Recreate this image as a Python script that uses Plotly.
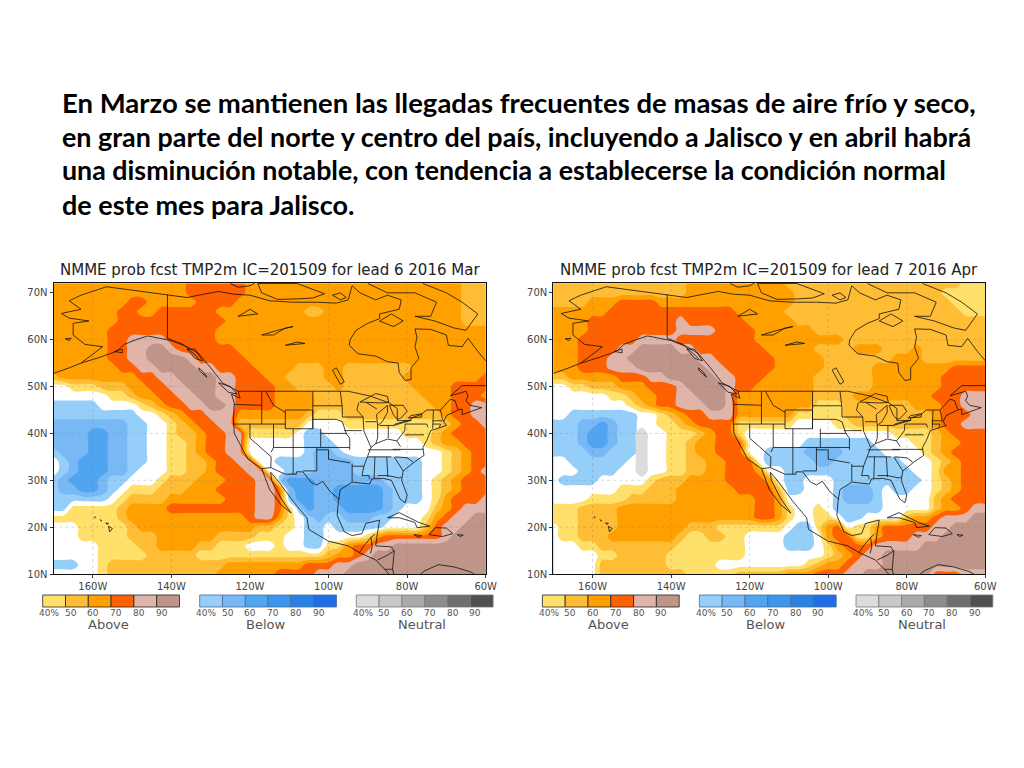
import plotly.graph_objects as go

WIDTH = 1024
HEIGHT = 768

HEADING = [
    "En Marzo se mantienen las llegadas frecuentes de masas de aire frío y seco,",
    "en gran parte del norte y centro del país, incluyendo a Jalisco y en abril habrá",
    "una disminución notable, con tendencia a establecerse la condición normal",
    "de este mes para Jalisco.",
]
HEADING_SIZES = [27.5, 26.9, 26.8, 27]
TITLES = [
    "NMME prob fcst TMP2m IC=201509 for lead 6 2016 Mar",
    "NMME prob fcst TMP2m IC=201509 for lead 7 2016 Apr",
]

LON_TICKS = [-160, -140, -120, -100, -80, -60]
LON_LABELS = ["160W", "140W", "120W", "100W", "80W", "60W"]
LAT_TICKS = [10, 20, 30, 40, 50, 60, 70]
LAT_LABELS = ["10N", "20N", "30N", "40N", "50N", "60N", "70N"]

ABOVE_COLORS = ["#FFE06A", "#FFBC35", "#FFA000", "#FF6000", "#E0B4A8", "#BF958A"]
BELOW_COLORS = ["#96CEFA", "#78B8F5", "#50A5F0", "#3C96F0", "#2882E6", "#1E6EE6"]
NEUTRAL_COLORS = ["#DCDCDC", "#C8C8C8", "#AAAAAA", "#8C8C8C", "#6E6E6E", "#505050"]
LEGEND_LABELS = ["40%", "50", "60", "70", "80", "90"]
LEGEND_NAMES = ["Above", "Below", "Neutral"]

# forecast category per grid cell, north to south (72N..10N every 2 deg),
# west to east (170W..60W every 2.5 deg). 1-6 above, A-C below, n neutral, 0 none
MAR_ROWS = [
    "33333333333333 444444 3333333333333333333333 222",
    "33333333333333 444444 3333333333333333333333 222",
    "33333333 44 33333 4444 33333333333333333333333 222",
    "3333333 44 33 444444 333333333 22 33333333333333 222",
    "3333333 44444444444 333333333333333333333333 222",
    "333333 44444444444 3333333333333333333333333333",
    "333333 44 5555 44444 3333333333333333333333333333",
    "333333 44 55 66 5 444444 33333333333333333333333333",
    "333333 44 55 6666 5 44444 3333333333333333333333333",
    "3333333 44 55 6666 55 4444 3333 222 33 2222222 33333333",
    "2 33333333 44 55 6666 55 444 33 2222 33 222222 33333333 4",
    "00 111 222 33 44 55 666 55 4444 33 2222 3 2222222 3333 4444",
    "000000 11 2 33 44 55 66 55 4444 3333 22222222222 333 444 3",
    "AAAAA 0000 1 2 3 44 55 66 5 4444 3333 222222222222 33 44 55",
    "AAAAAAAAA 00 1 2 3 44 555 3333333 2 111 2222222222 3 44 55",
    "BBBBBBBB AA 00 1 2 3 44 55 2222222 0000 1111111111 2 3 44 5",
    "BBBB CC BB AA 00 1 22 3 44 55 11111 0 AA 00000000 111 2 3 4444",
    "BBBB CC BB AA 00 11 2 3 44 55 000000 AAA 000000000 1 2 33 444",
    "A BBB CC BB AA 00 11 2 3 44 55 000000 A BB A 000000000 0 1 2 3 44",
    "0 A B CCC BB AA 00 11 22 3 44 55 00 AAAA BBBB AAAAAAA 00 1 2 3 44",
    "0 A B CCC BB A 000 11 22 3 444 55 00 AAA BBB B AAAAAAA 00 1 2 3 4 5",
    "A B CCC B AA 000 1 222 333 444 55 A CCC BBBBBBB AAAA 0 1 2 3 444",
    "A BB CC B A 0 111 222 333 4444 55 4 B CC BB CCCCC B AAA 0 1 2 3 444",
    "AAAAAA 0 1 2222 333333 444 55 4 A CC BB CCCCC B AAA 0 1 3 444 5",
    "AA 11111 2 3333 444444444 55 4 1 A C BB B CCCC B A 000 2 3 4 555",
    "1111111 2 333333333333 4 55 3 1 0 A B AA BBB AA 000 1 3 4 55 66",
    "000 11111 2 333333333333 22 11 0 AA 0 A AAAA 0000 2 4 55 666",
    "000 11111 222 333333 2222 111 00 AA 0000 1 3 4 444 4 4 5 6666",
    "00000 1111 22 3333 22 111 000 1 00 AA 11 3 44 55 6666666666",
    "00000 11111 22222 11111 11111111 2 33 4 5 666666666666",
    "AAA 00 1 222222222222 33333333 444 55 66666666666666",
    "00000 1 22222222222 333333 4444 555 666666666666666",
]
APR_ROWS = [
    "22222222222222 3333333333 222222222222222222 111",
    "22222222222222 33333333333 222222222222222 11111",
    "2222 333 4444 33333333333333 2222222222222222 1111",
    "333333 4444444444444 33333 222222222222222222 111",
    "3333 444444444 5 444444 33333 22222222222222222222",
    "3333 444444444 5555 4444 333333 222222222222222222",
    "333 444444 5555 44444444 33333 3333 222222222222222",
    "333 4444 55 6666 55 4444444 33333 2222 333 222 3 2222222",
    "333 444 55 6666666 55 444444 33333 2222222 333 2222222",
    "333 444 555 6666666 55 44444 33333 22222 33333 333 4444",
    "22 33333 444 55 66666 55 444 33333 222222 3333333 44444",
    "00 11 222 333 44 4 5 666 6 5 44 333333 222222 33333 33 44444",
    "000000 11 2 33 44 55 666 5 33333333 2222 3333333 3 444 555",
    "00000000 1 2 3 44 555 66 5 33333333 111 2222222 333 44 555",
    "00 AAAAAA A 00 1 2 3 44 555 33333 3 11111 222222222 3 444 55",
    "AAA BB C B AA 00 11 2 3 4444 111111 0000 11 22222222 3 44 555",
    "AAA B CC B AA n 00 111 2 3 44 1 000000000000000 111 1 2 3 4444",
    "AAA B CC B AA n 00 11 2 33 444 000000 AAAAAAA 0000 11 2 33 444",
    "AAAA BB AAA n 00 11 2 33 444 00 AAAA BBBB AAAA 0000 1 2 3 4444",
    "00 AAAAAA 0 n 00 11 22 3 3 44 4 0 AAAAA BB AAAAAAA 000 1 2 3 444",
    "000 AAAA 00 n 00 11 22 33 444 3 00 AAAAAAAAAAA AA 00 1 3 3 444",
    "0 AAAA 00000 1 222 3333 4444 3 0 AA 000 AAAAAAAAA 0 1 2 3 444",
    "0000000 111 222 333333 4444 2 AA 000 A BBB A 0 AA 00 1 2 3 444",
    "0000 1111 22222 33333333 44 3 00000 A BBB A 00000 2 3 4444",
    "111 2222 33333333333333 44 3 1 00 1 0 A AAAA 000 00 2 33 4 55",
    "111 2222 33333333333333 44 3 1 00 11 0 AA 0000 2 33 4 555 66",
    "0 11 2222 3333333 222 1111111 0 AA 1 3 4 0 11 3 44444 55 6666",
    "0 11 222 3333333 2 11 22 11 0000 AAA 0 3 4 4 11 3 444 555 66666",
    "000 11 22222222 1111111 0000 AAA 0 1 3 444 55555 6666666",
    "00000 11 22222 1 11111 11 0000000 0 1 2 3 4 55 66666666666",
    "00000 2222 222 11111 000000000 1 2 33 4 5 55 66666666666",
    "00000 222222222 11111 22222 333 444 55 6666666 444 555",
]

# map outlines, (lon, lat)
COASTS = [
    # mainland, Arctic round to the Pacific and back up to Alaska
    [(-156.5, 71.3), (-152, 70.8), (-148, 70.4), (-141, 69.7), (-136, 69), (-133, 69.5),
     (-128, 70.3), (-124, 69.7), (-120, 69.5), (-115, 68.3), (-109, 68), (-103, 68),
     (-98, 67.8), (-95, 68.5), (-94, 71.5), (-92, 70), (-88, 68.5), (-85, 69.5),
     (-81.5, 68.5), (-82, 66.5), (-87, 65.5), (-87, 64.5), (-90, 63.5), (-93, 62),
     (-94.5, 60), (-94.7, 58.8), (-92.5, 57), (-88, 56.5), (-85, 55.3), (-82.3, 55),
     (-82, 53), (-80.5, 51.3), (-79, 51.5), (-79, 54), (-77, 56), (-78, 58.5),
     (-77.5, 60.5), (-78, 62.3), (-74, 62.2), (-70, 61), (-69.5, 58.8), (-66, 58.5),
     (-64.5, 60.3), (-62, 57.5), (-60, 55.5), (-56, 52), (-60, 50.2), (-66, 50.2),
     (-69, 48), (-65, 49), (-64.5, 48), (-65, 47), (-64, 46), (-61, 45.5), (-66, 44),
     (-66, 45.2), (-67, 45), (-70, 43.8), (-70.7, 42.5), (-70, 41.7), (-74, 40.6),
     (-75, 38.5), (-76, 37), (-75.7, 35.3), (-78, 34), (-81, 32), (-81.4, 30),
     (-80, 26.8), (-80.5, 25.2), (-81.8, 26), (-82.8, 28), (-84, 30), (-86, 30.4),
     (-89, 30.3), (-89.5, 29.2), (-91, 29.3), (-94, 29.6), (-97, 28), (-97.5, 25.5),
     (-97.8, 22.5), (-96, 19), (-94, 18.2), (-91.5, 18.6), (-90.5, 20.8), (-87, 21.5),
     (-87.5, 19), (-88, 16), (-84, 15.8), (-83.3, 14.8), (-83.7, 11), (-83, 8.5)],
    [(-80, 7.5), (-83, 8.5), (-85.7, 11), (-88, 13), (-92, 14.5), (-95, 16), (-100, 17),
     (-105, 19.5), (-105.5, 22), (-109, 25.5), (-112.5, 29.5), (-114.7, 31.7),
     (-114.5, 30), (-112, 26), (-109.5, 23), (-112, 24.7), (-115, 28), (-117, 32.5),
     (-120.5, 34.5), (-122, 36.8), (-124, 40), (-124.2, 43), (-124, 46.5), (-124.7, 48.4),
     (-122.5, 47.5), (-123, 49), (-127, 50.8), (-130, 54), (-133, 57), (-136, 58.5),
     (-140, 59.8), (-146, 60.8), (-149, 60), (-152, 59), (-154, 57.5), (-158, 56.3),
     (-163, 55), (-166, 54), (-170, 52.8)],
    [(-163, 55), (-157.5, 58.5), (-162, 59), (-165, 61), (-165, 63.5), (-161, 64),
     (-166, 64.6), (-168, 65.6), (-163, 66.5), (-166, 68.3), (-163, 69.5), (-156.5, 71.3)],
    # islands
    [(-125, 72), (-123, 71.2), (-120, 71.5), (-118, 72.5)],
    [(-117, 70), (-113, 68.6), (-108, 68.7), (-104, 68.9), (-101, 69.8), (-105, 71),
     (-108, 72), (-118, 72), (-117, 70)],
    [(-99, 69.5), (-97, 68.5), (-95.5, 69), (-97, 70), (-99, 69.5)],
    [(-87, 64), (-84, 65.5), (-81, 64), (-83.5, 62.8), (-87, 64)],
    [(-90, 72), (-85, 70), (-78, 70), (-72.5, 68), (-74, 65), (-78, 65), (-73, 64),
     (-68, 62.5), (-65, 62), (-62, 65.5), (-66, 68), (-70, 70), (-76, 72)],
    [(-128, 50.8), (-125, 50), (-123.3, 48.4), (-125.5, 48.8), (-128, 50.8)],
    [(-133, 54), (-131.7, 53), (-131, 52), (-133, 53.5), (-133, 54)],
    [(-154.5, 57.5), (-152.5, 58), (-152.5, 57.2), (-154.5, 57.5)],
    [(-136, 58), (-134, 58), (-132, 55.5), (-134, 56), (-136, 58)],
    [(-167, 60.2), (-165.5, 60.3), (-166, 59.8), (-167, 60.2)],
    [(-85, 22), (-82, 23.1), (-77, 21), (-74.2, 20.2), (-77.5, 19.9), (-78, 21), (-82, 22), (-85, 22)],
    [(-74.4, 18.4), (-72.8, 19.9), (-70, 19.8), (-68.4, 18.6), (-71, 18), (-74.4, 18.4)],
    [(-78.3, 18.4), (-76.3, 18.2), (-77, 17.8), (-78.3, 18.4)],
    [(-67.2, 18.4), (-65.7, 18.3), (-66.5, 18), (-67.2, 18.4)],
    [(-156, 20.2), (-155, 19.7), (-155.7, 19), (-156, 20.2)],
    [(-156.7, 20.9), (-156, 20.8), (-156.4, 20.6), (-156.7, 20.9)],
    [(-158.2, 21.6), (-157.7, 21.4), (-158, 21.3)],
    [(-159.7, 22.1), (-159.4, 22.2), (-159.4, 21.9)],
    # South America, lakes
    [(-78, 9), (-75.5, 10.7), (-72, 12), (-68, 11.5), (-64, 10.5), (-60, 8.5)],
    [(-123, 65), (-120, 66.5), (-118, 65.5), (-122, 65), (-123, 65)],
    [(-117, 61), (-113, 62), (-109, 62.8), (-111, 62.5), (-114, 61), (-117, 61)],
    [(-111, 58.8), (-108, 59.5), (-106, 59.2), (-109, 59), (-111, 58.8)],
    [(-99, 53.5), (-97, 50.5), (-96, 51), (-98, 54), (-99, 53.5)],
    [(-92, 46.7), (-88, 48.5), (-85, 47.9), (-84.7, 46.6), (-87, 46.5), (-90, 46.7), (-92, 46.7)],
    [(-87.5, 41.7), (-87.8, 44), (-85, 46), (-85, 44.5), (-86.3, 42.5), (-87.5, 41.7)],
    [(-84.5, 46), (-81, 46), (-80, 44.7), (-81.7, 43.2), (-82.5, 43), (-83.5, 44), (-84.5, 46)],
    [(-83.4, 41.7), (-79, 42.8), (-80, 42.7), (-83, 42), (-83.4, 41.7)],
    [(-79.7, 43.3), (-76.3, 43.5), (-76.3, 44.2), (-79, 43.8), (-79.7, 43.3)],
]
BORDERS = [
    [(-123, 49), (-95, 49), (-89.5, 48), (-84.5, 46.5), (-82.5, 45.3), (-82.5, 42.7),
     (-79, 42.8), (-79, 43.3), (-76.5, 44), (-75, 45), (-71.5, 45), (-69, 47.3),
     (-67.8, 47), (-67, 45)],
    [(-141, 69.7), (-141, 60.3), (-137, 59), (-133, 56)],
    [(-117, 32.5), (-114.7, 32.7), (-111, 31.3), (-108.2, 31.3), (-108.2, 31.8),
     (-106.5, 31.8), (-104.5, 29.6), (-103, 29), (-101.5, 29.8), (-99.5, 27.5), (-97.2, 25.9)],
    [(-92.2, 14.5), (-91, 16), (-89.2, 17.8), (-88.2, 18.5)],
    [(-89.2, 17.8), (-88.9, 15.8), (-89.3, 14.4)],
    [(-87.5, 13), (-85, 14), (-83.2, 15)],
    [(-85.7, 11), (-83.7, 11)],
    # states
    [(-124, 46.2), (-119, 46), (-117, 46)],
    [(-117, 49), (-117, 42)],
    [(-124.2, 42), (-111, 42)],
    [(-120, 42), (-120, 39), (-114.6, 35), (-114.7, 32.7)],
    [(-114, 42), (-114, 37), (-114.6, 36)],
    [(-114, 37), (-94.6, 37)],
    [(-109, 41), (-109, 31.3)],
    [(-111, 45), (-111, 41), (-104, 41), (-104, 45), (-111, 45)],
    [(-116, 49), (-114, 46), (-111, 44.5)],
    [(-104, 49), (-104, 41)],
    [(-104, 45.9), (-96.5, 45.9)],
    [(-104, 43), (-98, 43), (-96.5, 42.5)],
    [(-102, 40), (-95.3, 40)],
    [(-102, 41), (-102, 37)],
    [(-103, 37), (-103, 32), (-106.5, 32)],
    [(-103, 36.5), (-100, 36.5), (-100, 34.5), (-94.5, 33.7)],
    [(-94.6, 39), (-94.6, 36.5)],
    [(-94, 33), (-91, 33)],
    [(-94, 33.5), (-94, 29.7)],
    [(-97, 49), (-96.5, 45.5), (-96.5, 43.5), (-91.2, 43.5)],
    [(-96, 40.6), (-91.5, 40.6)],
    [(-96.5, 42.5), (-95.5, 40), (-94.6, 39)],
    [(-91.2, 43.5), (-91, 40.5), (-89.2, 37), (-90, 35), (-91, 33), (-91.5, 31), (-89.7, 31), (-89.6, 30.2)],
    [(-88.2, 35), (-88.4, 30.3)],
    [(-90, 36.5), (-81.7, 36.5)],
    [(-90, 35), (-84, 35)],
    [(-85.2, 35), (-85, 31), (-84.9, 30.7)],
    [(-87.5, 31), (-85, 31), (-82, 30.5), (-81.4, 30.7)],
    [(-83.3, 35), (-81, 32)],
    [(-83, 35), (-80, 34.8), (-78.5, 33.9)],
    [(-83.7, 36.6), (-75.9, 36.6)],
    [(-87.5, 41.7), (-87.5, 39), (-88, 37.8)],
    [(-89.2, 37), (-88, 37.8), (-85, 38.8), (-82.6, 38.4), (-80.6, 40.6)],
    [(-84.8, 41.7), (-84.8, 39)],
    [(-87, 41.7), (-83.4, 41.7)],
    [(-90.6, 42.5), (-87.8, 42.5)],
    [(-90.4, 46.6), (-87.7, 45.2)],
    [(-92.3, 46.6), (-92.8, 45), (-91.2, 43.5)],
    [(-80.5, 42), (-75, 42), (-74.7, 41.3)],
    [(-80.5, 39.7), (-75.7, 39.7)],
    [(-80.5, 42), (-80.6, 40.6)],
    [(-82.6, 38.4), (-81.7, 37.2)],
    [(-73.3, 45), (-73.5, 42), (-73.5, 41)],
    [(-71.5, 45), (-71, 43), (-70.7, 42.7)],
    [(-73.5, 42.7), (-71, 42.7)],
    [(-73.5, 42), (-71.5, 42), (-71.8, 41.3)],
]

CODES = {"0": 0, "n": 0, "A": -1, "B": -2, "C": -3}
for n in range(1, 7):
    CODES[str(n)] = n

lons = [-170 + 2.5 * i for i in range(45)]
lats = [72 - 2 * j for j in range(32)]


def px(x):
    return x / WIDTH


def py(y):
    return 1 - y / HEIGHT


def grid_from_rows(rows):
    z = []
    neutral = []
    for row in rows:
        row = row.replace(" ", "")
        row = row.ljust(45, row[-1])[:45]
        z.append([CODES[c] for c in row])
        neutral.append([1 if c == "n" else 0 for c in row])
    return z, neutral


def flatten(segments):
    xs, ys = [], []
    for seg in segments:
        xs += [p[0] for p in seg] + [None]
        ys += [p[1] for p in seg] + [None]
    return xs, ys


def stepped(colors):
    n = len(colors)
    scale = []
    for i, c in enumerate(colors):
        scale.append([i / n, c])
        scale.append([(i + 1) / n, c])
    return scale


band_colors = BELOW_COLORS[2::-1]
band_colors = ["#3C96F0"] + band_colors + ["#FFFFFF"] + ABOVE_COLORS

fig = go.Figure()

coast_x, coast_y = flatten(COASTS)
border_x, border_y = flatten(BORDERS)

for num, rows in enumerate([MAR_ROWS, APR_ROWS]):
    xa = "x" if num == 0 else "x2"
    ya = "y" if num == 0 else "y2"
    z, neutral = grid_from_rows(rows)

    fig.add_trace(go.Contour(
        x=lons, y=lats, z=z, xaxis=xa, yaxis=ya,
        contours=dict(start=-3.5, end=5.5, size=1, coloring="fill"),
        colorscale=stepped(band_colors),
        line=dict(width=0), showscale=False, hoverinfo="skip",
    ))
    if num == 1:
        fig.add_trace(go.Contour(
            x=lons, y=lats, z=neutral, xaxis=xa, yaxis=ya,
            contours=dict(start=0.4, end=0.4, size=1, coloring="fill"),
            colorscale=[[0, "rgba(0,0,0,0)"], [0.5, "rgba(0,0,0,0)"],
                        [0.5, NEUTRAL_COLORS[0]], [1, NEUTRAL_COLORS[0]]],
            line=dict(width=0), showscale=False, hoverinfo="skip",
        ))

    # dotted lat/lon lines sit on top of the shading
    for lon in LON_TICKS[:-1]:
        fig.add_trace(go.Scatter(
            x=[lon, lon], y=[10, 72], xaxis=xa, yaxis=ya, mode="lines",
            line=dict(color="rgba(120,120,120,0.35)", width=0.8, dash="dot"),
            hoverinfo="skip", showlegend=False,
        ))
    for lat in LAT_TICKS[1:-1]:
        fig.add_trace(go.Scatter(
            x=[-170, -60], y=[lat, lat], xaxis=xa, yaxis=ya, mode="lines",
            line=dict(color="rgba(120,120,120,0.35)", width=0.8, dash="dot"),
            hoverinfo="skip", showlegend=False,
        ))

    fig.add_trace(go.Scatter(
        x=coast_x, y=coast_y, xaxis=xa, yaxis=ya, mode="lines",
        line=dict(color="#111111", width=0.8), hoverinfo="skip", showlegend=False,
    ))
    fig.add_trace(go.Scatter(
        x=border_x, y=border_y, xaxis=xa, yaxis=ya, mode="lines",
        line=dict(color="#111111", width=0.8), hoverinfo="skip", showlegend=False,
    ))

x_axis = dict(
    range=[-170, -60], tickvals=LON_TICKS, ticktext=LON_LABELS, ticks="outside", ticklen=3,
    tickcolor="#333333", tickfont=dict(family="DejaVu Sans", size=10, color="#444444"),
    showgrid=False, zeroline=False, showline=True, linecolor="#111111", linewidth=1, mirror=True,
    automargin=False,
)
y_axis = dict(
    range=[10, 72.1], tickvals=LAT_TICKS, ticktext=LAT_LABELS, ticks="outside", ticklen=3,
    tickcolor="#333333", tickfont=dict(family="DejaVu Sans", size=10, color="#444444"),
    showgrid=False, zeroline=False, showline=True, linecolor="#111111", linewidth=1, mirror=True,
    automargin=False,
)

annotations = []
for i, line in enumerate(HEADING):
    annotations.append(dict(
        text=line, x=px(59.5), y=py(102 + i * 34), xref="paper", yref="paper",
        xanchor="left", yanchor="middle", showarrow=False,
        font=dict(family="Lato", size=HEADING_SIZES[i], color="#000000", weight="bold"),
    ))

shapes = []
map_offsets = [0, 499.7]
for num, offset in enumerate(map_offsets):
    annotations.append(dict(
        text=TITLES[num], x=px(269.5 + offset), y=py(270), xref="paper", yref="paper",
        xanchor="center", yanchor="middle", showarrow=False,
        font=dict(family="DejaVu Sans", size=15, color="#222222"),
    ))
    bars = [(42.7, ABOVE_COLORS, "#222222"), (199.7, BELOW_COLORS, "#4a6a90"), (356.3, NEUTRAL_COLORS, "#777777")]
    for b, (left, colors, edge) in enumerate(bars):
        left += offset
        for c, color in enumerate(colors):
            x0 = left + c * 22.8
            shapes.append(dict(
                type="rect", xref="paper", yref="paper", x0=px(x0), x1=px(x0 + 22.8),
                y0=py(607), y1=py(595), fillcolor=color, line=dict(color=edge, width=0.8),
            ))
            label_x = x0 + (6.5 if c == 0 else 5)
            annotations.append(dict(
                text=LEGEND_LABELS[c], x=px(label_x), y=py(612.5), xref="paper", yref="paper",
                xanchor="center", yanchor="middle", showarrow=False,
                font=dict(family="DejaVu Sans", size=9, color="#555555"),
            ))
        annotations.append(dict(
            text=LEGEND_NAMES[b], x=px(left + 66), y=py(624), xref="paper", yref="paper",
            xanchor="center", yanchor="middle", showarrow=False,
            font=dict(family="DejaVu Sans", size=13, color="#555555"),
        ))

fig.update_layout(
    width=WIDTH, height=HEIGHT, autosize=False,
    margin=dict(l=0, r=0, t=0, b=0),
    paper_bgcolor="white", plot_bgcolor="white", showlegend=False,
    xaxis=dict(domain=[px(53.5), px(485.7)], anchor="y", **x_axis),
    yaxis=dict(domain=[py(574), py(283)], anchor="x", **y_axis),
    xaxis2=dict(domain=[px(553.3), px(985.3)], anchor="y2", **x_axis),
    yaxis2=dict(domain=[py(574), py(283)], anchor="x2", **y_axis),
    annotations=annotations,
    shapes=shapes,
)

fig.write_html(
    "out.html",
    config=dict(displayModeBar=False, responsive=False),
    post_script="document.body.style.margin='0';document.documentElement.style.overflow='hidden';",
)
